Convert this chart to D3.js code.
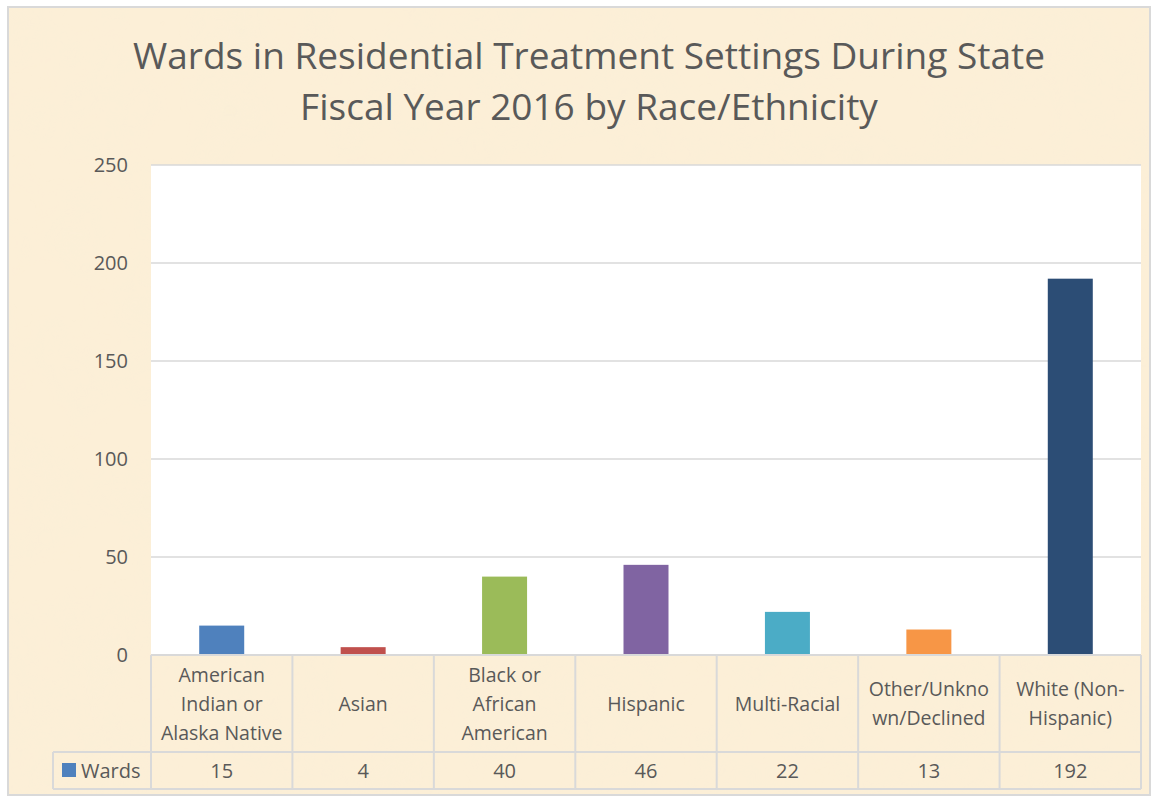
<!doctype html>
<html>
    <head>
        <title>Wards by Race/Ethnicity</title>
        <script src="https://d3js.org/d3.v7.min.js"></script>
        <style>
            body { margin: 0; background: #ffffff; }
            text { font-family: "Open Sans", "Liberation Sans", sans-serif; fill: #595959; }
        </style>
    </head>

    <body>
        <div id="my_dataviz"></div>
        <script>
            // chart data
            var categories = [
                ["American", "Indian or", "Alaska Native"],
                ["Asian"],
                ["Black or", "African", "American"],
                ["Hispanic"],
                ["Multi-Racial"],
                ["Other/Unkno", "wn/Declined"],
                ["White (Non-", "Hispanic)"]
            ];
            var wards = [15, 4, 40, 46, 22, 13, 192];
            var barColors = ["#4f81bd", "#c0504d", "#9bbb59", "#8064a2", "#4bacc6", "#f79646", "#2c4d75"];
            var yTicks = [0, 50, 100, 150, 200, 250];
            var seriesName = "Wards";
            var titleLines = ["Wards in Residential Treatment Settings During State",
                              "Fiscal Year 2016 by Race/Ethnicity"];

            var W = 1158, H = 799;
            var plot = {left: 151, right: 1141, top: 165, bottom: 655};
            var tableRow1 = 752, tableRow2 = 789, tableLeft = 53;
            var gridColor = "#d9d9d9";

            var svg = d3.select("#my_dataviz")
                .append("svg")
                    .attr("width", W)
                    .attr("height", H);

            // parchment background
            var defs = svg.append("defs");
            var f = defs.append("filter").attr("id", "parch")
                .attr("x", 0).attr("y", 0).attr("width", "100%").attr("height", "100%");
            f.append("feTurbulence").attr("type", "fractalNoise")
                .attr("baseFrequency", "0.015").attr("numOctaves", 3).attr("seed", 4).attr("result", "n");
            f.append("feColorMatrix").attr("in", "n").attr("type", "matrix")
                .attr("values", "0 0 0 0 0.93  0 0 0 0 0.86  0 0 0 0 0.68  0.7 0 0 0 -0.25")
                .attr("result", "c");
            f.append("feComposite").attr("in", "c").attr("in2", "SourceGraphic").attr("operator", "in");

            svg.append("rect")
                .attr("x", 8).attr("y", 7).attr("width", 1142).attr("height", 788)
                .attr("fill", "#fcefd7");
            svg.append("rect")
                .attr("x", 8).attr("y", 7).attr("width", 1142).attr("height", 788)
                .attr("fill", "#fcefd7")
                .attr("filter", "url(#parch)")
                .attr("opacity", 0.5);
            svg.append("rect")
                .attr("x", 8).attr("y", 7).attr("width", 1142).attr("height", 788)
                .attr("fill", "none").attr("stroke", "#d9d9d9").attr("stroke-width", 2);

            // title
            svg.append("g").selectAll("text")
                .data(titleLines)
                .enter().append("text")
                    .attr("x", 589)
                    .attr("y", function(d, i) { return 69 + i * 51; })
                    .attr("text-anchor", "middle")
                    .style("font-size", "37px")
                    .text(function(d) { return d; });

            // scales
            var x = d3.scaleBand()
                .domain(d3.range(categories.length))
                .range([plot.left, plot.right]);
            var y = d3.scaleLinear()
                .domain([0, 250])
                .range([plot.bottom, plot.top]);

            // plot area
            svg.append("rect")
                .attr("x", plot.left).attr("y", plot.top)
                .attr("width", plot.right - plot.left).attr("height", plot.bottom - plot.top)
                .attr("fill", "#ffffff");

            // gridlines
            svg.append("g").selectAll("line")
                .data(yTicks.slice(1))
                .enter().append("line")
                    .attr("x1", plot.left).attr("x2", plot.right)
                    .attr("y1", function(d) { return y(d); })
                    .attr("y2", function(d) { return y(d); })
                    .attr("stroke", gridColor).attr("stroke-width", 1.5);

            // y axis labels
            svg.append("g").selectAll("text")
                .data(yTicks)
                .enter().append("text")
                    .attr("x", 128)
                    .attr("y", function(d) { return y(d) + 7; })
                    .attr("text-anchor", "end")
                    .style("font-size", "20px")
                    .text(function(d) { return d; });

            // bars
            var barW = 45;
            svg.append("g").selectAll("rect")
                .data(wards)
                .enter().append("rect")
                    .attr("x", function(d, i) { return x(i) + x.bandwidth() / 2 - barW / 2; })
                    .attr("y", function(d) { return y(d); })
                    .attr("width", barW)
                    .attr("height", function(d) { return y(0) - y(d); })
                    .attr("fill", function(d, i) { return barColors[i]; });

            // data table grid
            var tg = svg.append("g").attr("stroke", gridColor).attr("stroke-width", 2);
            tg.append("line").attr("x1", plot.left).attr("x2", plot.right).attr("y1", plot.bottom).attr("y2", plot.bottom);
            tg.append("line").attr("x1", tableLeft).attr("x2", plot.right).attr("y1", tableRow1).attr("y2", tableRow1);
            tg.append("line").attr("x1", tableLeft).attr("x2", plot.right).attr("y1", tableRow2).attr("y2", tableRow2);
            tg.append("line").attr("x1", tableLeft).attr("x2", tableLeft).attr("y1", tableRow1).attr("y2", tableRow2);
            tg.selectAll(".v")
                .data(d3.range(categories.length + 1))
                .enter().append("line")
                    .attr("x1", function(i) { return plot.left + i * x.step(); })
                    .attr("x2", function(i) { return plot.left + i * x.step(); })
                    .attr("y1", plot.bottom).attr("y2", tableRow2);

            // category labels
            var lineH = 29;
            var catG = svg.append("g").selectAll("g")
                .data(categories)
                .enter().append("g");
            catG.selectAll("text")
                .data(function(d, i) {
                    return d.map(function(t, j) { return {t: t, j: j, n: d.length, i: i}; });
                })
                .enter().append("text")
                    .attr("x", function(d) { return x(d.i) + x.bandwidth() / 2; })
                    .attr("y", function(d) {
                        var mid = (plot.bottom + tableRow1) / 2;
                        return mid + (d.j - (d.n - 1) / 2) * lineH + 7;
                    })
                    .attr("text-anchor", "middle")
                    .style("font-size", "19.5px")
                    .text(function(d) { return d.t; });

            // values row
            svg.append("g").selectAll("text")
                .data(wards)
                .enter().append("text")
                    .attr("x", function(d, i) { return x(i) + x.bandwidth() / 2; })
                    .attr("y", (tableRow1 + tableRow2) / 2 + 7)
                    .attr("text-anchor", "middle")
                    .style("font-size", "20px")
                    .text(function(d) { return d; });

            // legend key
            svg.append("rect")
                .attr("x", 62).attr("y", 763).attr("width", 14).attr("height", 14)
                .attr("fill", barColors[0]);
            svg.append("text")
                .attr("x", 81).attr("y", 778)
                .style("font-size", "20px")
                .text(seriesName);
        </script>
    </body>
</html>
